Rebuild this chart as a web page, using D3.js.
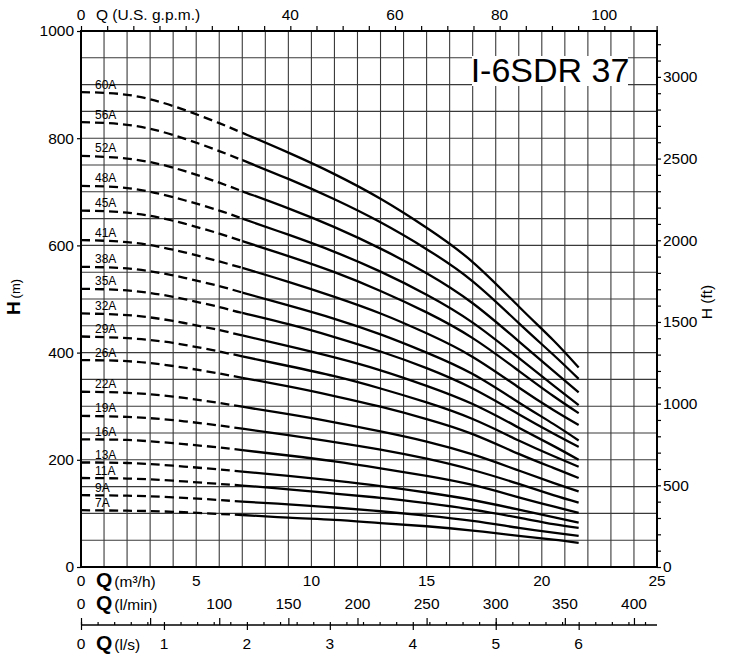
<!DOCTYPE html>
<html><head><meta charset="utf-8">
<script src="https://cdn.jsdelivr.net/npm/d3@7"></script>
<style>
body{margin:0;background:#fff}
svg text{font-family:"Liberation Sans",Arial,Helvetica,sans-serif;fill:#000}
</style>
</head><body>
<svg id="c" width="733" height="657"></svg>
<script>
// ---- data ----
const modelName = "I-6SDR 37";
const qFlow = [0, 2, 4, 6, 7, 9, 11, 13, 15, 17, 19, 20.5, 21.6]; // m3/h
const curveLabels = ["60A","56A","52A","48A","45A","41A","38A","35A","32A","29A","26A","22A","19A","16A","13A","11A","9A","7A"];
const headValues = [
  [886,881,860,828,810,773,733,687,633,569,486,423,372],
  [830,825,806,776,759,724,686,643,593,533,455,396,351],
  [767,762,745,717,701,669,634,594,548,492,421,366,326],
  [711,707,690,665,650,620,588,551,508,456,390,339,302],
  [665,661,646,622,608,580,550,515,475,427,366,319,287],
  [610,606,592,570,558,532,504,473,436,392,335,293,265],
  [560,557,544,524,512,488,463,434,400,360,307,267,236],
  [519,516,504,485,474,453,429,402,371,333,285,249,224],
  [473,470,459,442,432,412,391,367,338,304,260,226,200],
  [430,427,418,402,393,375,356,333,307,276,236,207,187],
  [386,384,375,361,353,337,319,299,276,248,211,185,166],
  [327,325,318,306,299,285,270,253,234,210,180,157,141],
  [282,280,274,264,258,246,233,219,202,181,155,134,120],
  [238,237,231,223,218,208,197,184,170,153,130,113,101],
  [195,194,189,182,178,170,161,151,139,125,107,93,83],
  [166,165,161,155,152,145,137,129,119,107,92,80,73],
  [134,133,130,125,122,117,111,104,96,86,73,64,58],
  [106,105,103,99,97,92,88,82,76,68,58,51,45]
];
const dashedUntil = 7; // m3/h, dashed part of each curve
const hTicks = [0, 200, 400, 600, 800, 1000];
const ftLabels = [0, 500, 1000, 1500, 2000, 2500, 3000];
const gpmLabels = [0, 40, 60, 80, 100];
const m3hLabels = [0, 5, 10, 15, 20, 25];
const lminLabels = [0, 100, 150, 200, 250, 300, 350, 400];
const lsLabels = [0, 1, 2, 3, 4, 5, 6];

// ---- scales ----
const x = d3.scaleLinear().domain([0, 25]).range([81, 657]);
const y = d3.scaleLinear().domain([0, 1000]).range([567, 31]);
const yFt = d3.scaleLinear().domain([0, 1000 / 0.3048]).range([567, 31]);
const xGpm = d3.scaleLinear().domain([0, 25 * 4.402868]).range([81, 657]);
const xLmin = d3.scaleLinear().domain([0, 25 * 1000 / 60]).range([81, 657]);
const xLs = d3.scaleLinear().domain([0, 25 / 3.6]).range([81, 657]);

const svg = d3.select("#c");
const FS = 15.5;

// clip paths for dashed / solid parts
const defs = svg.append("defs");
defs.append("clipPath").attr("id", "cDash").append("rect")
  .attr("x", 0).attr("y", 0).attr("width", x(dashedUntil)).attr("height", 657);
defs.append("clipPath").attr("id", "cSolid").append("rect")
  .attr("x", x(dashedUntil)).attr("y", 0).attr("width", 733 - x(dashedUntil)).attr("height", 657);

// ---- grid ----
const grid = svg.append("g").attr("stroke", "#3a3a3a").attr("stroke-width", 1.1);
grid.selectAll("line.v").data(d3.range(1, 25)).join("line")
  .attr("x1", d => x(d)).attr("x2", d => x(d)).attr("y1", y(0)).attr("y2", y(1000));
grid.selectAll("line.h").data(d3.range(50, 1000, 50)).join("line")
  .attr("x1", x(0)).attr("x2", x(25)).attr("y1", d => y(d)).attr("y2", d => y(d));

// ---- curves ----
const line = d3.line().x((d, i) => x(qFlow[i])).y(d => y(d)).curve(d3.curveNatural);
const cg = svg.append("g").attr("fill", "none").attr("stroke", "#000").attr("stroke-width", 2.3);
headValues.forEach((hv, k) => {
  const p = line(hv);
  cg.append("path").attr("d", p).attr("clip-path", "url(#cDash)").attr("stroke-dasharray", "9,5");
  cg.append("path").attr("d", p).attr("clip-path", "url(#cSolid)");
  svg.append("text").attr("x", 95).attr("y", y(hv[0]) - 3.5)
    .attr("font-size", 12).text(curveLabels[k]);
});

// ---- frame ----
svg.append("rect").attr("x", x(0)).attr("y", y(1000)).attr("width", x(25) - x(0)).attr("height", y(0) - y(1000))
  .attr("fill", "none").attr("stroke", "#000").attr("stroke-width", 2);

// ---- left axis (m) ----
const la = svg.append("g").attr("transform", `translate(${x(0)},0)`)
  .call(d3.axisLeft(y).tickValues(hTicks).tickSize(4).tickPadding(3).tickFormat(d3.format("d")));
la.select(".domain").remove();
la.selectAll("text").attr("font-size", FS).attr("font-family", null);

// ---- right axis (ft) ----
const ra = svg.append("g").attr("transform", `translate(${x(25)},0)`)
  .call(d3.axisRight(yFt).tickValues(d3.range(0, 3201, 100)).tickSize(4).tickPadding(2)
    .tickFormat(d => ftLabels.includes(d) ? d : ""));
ra.select(".domain").remove();
ra.selectAll("text").attr("font-size", FS).attr("font-family", null);

// ---- top axis (US gpm) ----
const ta = svg.append("g").attr("transform", `translate(0,${y(1000)})`)
  .call(d3.axisTop(xGpm).tickValues(d3.range(0, 111, 5)).tickSize(5).tickFormat(""));
ta.select(".domain").remove();
svg.append("g").selectAll("text").data(gpmLabels).join("text")
  .attr("x", d => xGpm(d)).attr("y", 20).attr("text-anchor", "middle").attr("font-size", FS).text(d => d);
svg.append("text").attr("x", 96).attr("y", 20).attr("font-size", FS).text("Q (U.S. g.p.m.)");

// ---- bottom rows ----
function qLabel(xp, yb, unit) {
  const t = svg.append("text").attr("x", xp).attr("y", yb).attr("font-size", FS);
  t.append("tspan").attr("font-weight", "bold").attr("font-size", 21).text("Q");
  t.append("tspan").attr("dx", 2).text(unit);
}
// m3/h
svg.append("g").selectAll("text").data(m3hLabels).join("text")
  .attr("x", d => x(d)).attr("y", 586).attr("text-anchor", "middle").attr("font-size", FS).text(d => d);
qLabel(96, 587, "(m³/h)");
// l/min
svg.append("g").selectAll("text").data(lminLabels).join("text")
  .attr("x", d => xLmin(d)).attr("y", 609).attr("text-anchor", "middle").attr("font-size", FS).text(d => d);
qLabel(96, 610, "(l/min)");
// l/s axis line and ticks
const lsY = 625;
svg.append("line").attr("x1", x(0)).attr("x2", x(25)).attr("y1", lsY).attr("y2", lsY)
  .attr("stroke", "#000").attr("stroke-width", 1.6);
const a1 = svg.append("g").attr("transform", `translate(0,${lsY})`)
  .call(d3.axisTop(xLs).tickValues(d3.range(0, 35).map(i => i * 0.2)).tickSize(3).tickFormat(""));
a1.select(".domain").remove();
const a2 = svg.append("g").attr("transform", `translate(0,${lsY})`)
  .call(d3.axisBottom(xLs).tickValues(lsLabels).tickSize(5).tickFormat(""));
a2.select(".domain").remove();
const a3 = svg.append("g").attr("transform", `translate(0,${lsY})`)
  .call(d3.axisTop(xLmin).tickValues(d3.range(0, 401, 50)).tickSize(7).tickFormat(""));
a3.select(".domain").remove();
svg.selectAll("g.tick line").attr("stroke", "#000").attr("stroke-width", 1.2);
svg.append("g").selectAll("text").data(lsLabels).join("text")
  .attr("x", d => xLs(d)).attr("y", 649).attr("text-anchor", "middle").attr("font-size", FS).text(d => d);
qLabel(96, 650, "(l/s)");

// ---- axis titles ----
const yl = svg.append("text").attr("transform", "translate(20,297) rotate(-90)").attr("text-anchor", "middle");
yl.append("tspan").attr("font-weight", "bold").attr("font-size", 19).text("H");
yl.append("tspan").attr("font-size", 13).attr("dx", 3).text("(m)");
svg.append("text").attr("transform", "translate(712,302) rotate(-90)").attr("text-anchor", "middle")
  .attr("font-size", FS).text("H (ft)");

// ---- model title ----
svg.append("rect").attr("x", 472).attr("y", 56).attr("width", 156).attr("height", 30).attr("fill", "#fff");
svg.append("text").attr("x", 550).attr("y", 82).attr("text-anchor", "middle").attr("font-size", 34).text(modelName);
</script>
</body></html>
